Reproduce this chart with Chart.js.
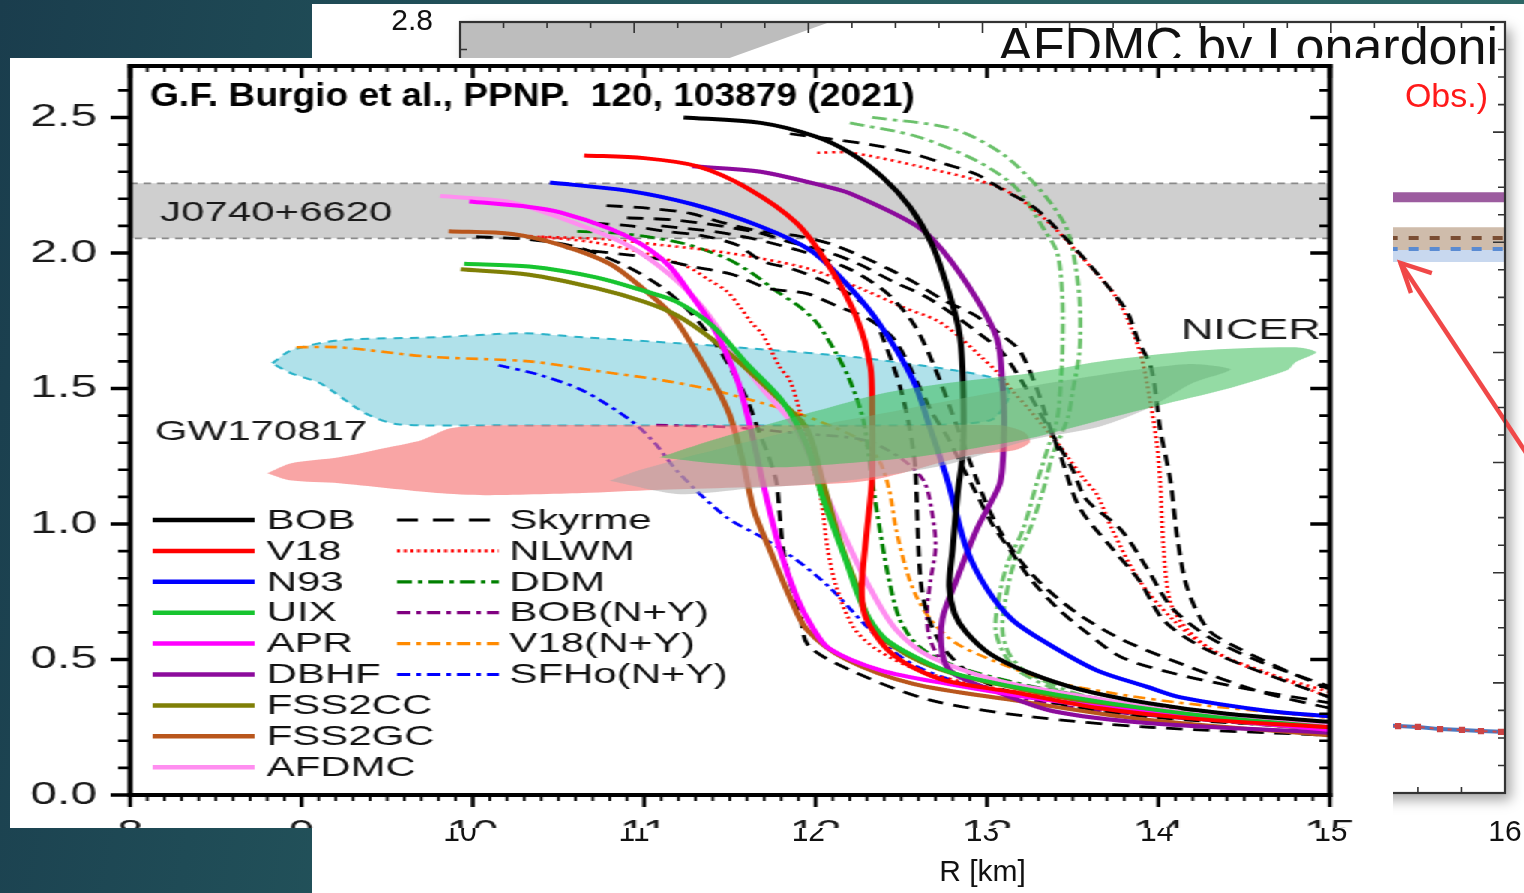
<!DOCTYPE html>
<html><head><meta charset="utf-8">
<script src="https://cdn.jsdelivr.net/npm/chart.js@4.4.1/dist/chart.umd.min.js"></script>
<style>
html,body{margin:0;padding:0;}
body{width:1524px;height:893px;overflow:hidden;position:relative;background:linear-gradient(100deg,#1a3d4d 0%,#1f4b56 20%,#275c60 45%,#2e6967 100%);}
#bgwrap{position:absolute;left:312px;top:4px;width:1212px;height:889px;background:#fff;}
#mainwrap{position:absolute;left:10px;top:58px;width:922px;height:770px;background:#fff;transform:scaleX(1.5);transform-origin:0 0;}
canvas{display:block;}
</style></head><body>
<div id="bgwrap"><canvas id="bg" width="1212" height="889"></canvas></div>
<div id="mainwrap"><canvas id="main" width="922" height="770"></canvas></div>
<script>
// ---------------- DATA (R [km], M) ----------------
const xTicksMain = [8, 9, 10, 11, 12, 13, 14, 15];
const yTicksMain = [0, 0.5, 1.0, 1.5, 2.0, 2.5];

const J0740 = [[8,2.257],[15,2.257],[15,2.054],[8,2.054],[8,2.257]];
const GW170817_blue = [[8.83,1.593],[8.94,1.641],[9.22,1.678],[9.79,1.689],[10.29,1.704],[10.64,1.689],[11.20,1.667],[11.68,1.645],[12.24,1.615],[12.81,1.567],[13.08,1.530],[13.13,1.475],[13.02,1.383],[12.49,1.364],[11.33,1.364],[10.16,1.364],[9.56,1.368],[9.37,1.409],[9.11,1.519],[8.94,1.556],[8.83,1.593]];
const GW170817_red = [[8.80,1.187],[8.94,1.224],[9.22,1.246],[9.51,1.283],[9.70,1.309],[9.87,1.353],[10.16,1.364],[11.33,1.364],[12.49,1.364],[13.08,1.364],[13.22,1.338],[13.25,1.302],[13.16,1.272],[12.90,1.254],[12.32,1.161],[11.91,1.143],[11.06,1.125],[10.64,1.114],[10.07,1.106],[9.79,1.114],[9.22,1.150],[8.93,1.161],[8.80,1.187]];
const NICER_gray = [[10.80,1.16],[11.21,1.11],[11.60,1.13],[12.18,1.16],[12.77,1.22],[13.25,1.31],[13.66,1.36],[13.95,1.43],[14.20,1.52],[14.42,1.57],[14.18,1.59],[13.66,1.55],[13.08,1.49],[12.49,1.42],[11.91,1.35],[11.33,1.26],[10.98,1.20],[10.80,1.16]];
const NICER_green = [[11.09,1.246],[11.40,1.31],[11.79,1.38],[12.08,1.43],[12.375,1.48],[12.77,1.52],[13.25,1.556],[13.66,1.60],[14.24,1.64],[14.80,1.652],[14.92,1.634],[14.80,1.597],[14.75,1.567],[14.43,1.504],[14.05,1.445],[13.66,1.383],[13.25,1.316],[12.96,1.283],[12.57,1.246],[12.18,1.224],[11.79,1.209],[11.40,1.224],[11.09,1.246]];

const BOB = [[11.23,2.50],[11.68,2.48],[12.0,2.43],[12.2,2.37],[12.39,2.28],[12.55,2.17],[12.68,2.03],[12.78,1.85],[12.84,1.70],[12.86,1.52],[12.86,1.27],[12.83,1.12],[12.80,0.91],[12.78,0.77],[12.81,0.67],[12.88,0.60],[13.02,0.52],[13.25,0.45],[13.54,0.39],[13.93,0.34],[14.4,0.30],[15.0,0.27]];
const V18 = [[10.65,2.36],[11.0,2.35],[11.31,2.32],[11.60,2.24],[11.89,2.11],[12.08,1.95],[12.24,1.76],[12.32,1.58],[12.33,1.42],[12.33,1.17],[12.30,0.98],[12.27,0.78],[12.28,0.68],[12.33,0.61],[12.43,0.53],[12.57,0.47],[12.77,0.42],[13.15,0.38],[13.66,0.32],[14.24,0.28],[15.0,0.25]];
const N93 = [[10.45,2.26],[10.90,2.23],[11.28,2.18],[11.67,2.10],[11.97,2.01],[12.16,1.90],[12.36,1.75],[12.57,1.53],[12.67,1.35],[12.77,1.16],[12.88,0.91],[13.0,0.76],[13.15,0.645],[13.35,0.56],[13.64,0.46],[13.93,0.40],[14.13,0.36],[14.64,0.31],[15.0,0.29]];
const UIX = [[9.95,1.96],[10.33,1.95],[10.72,1.91],[11.0,1.86],[11.19,1.82],[11.40,1.73],[11.60,1.59],[11.81,1.45],[11.95,1.29],[12.04,1.10],[12.18,0.86],[12.28,0.69],[12.40,0.58],[12.58,0.51],[12.8,0.45],[13.15,0.40],[13.7,0.34],[14.3,0.29],[15.0,0.25]];
const APR = [[9.98,2.19],[10.33,2.17],[10.51,2.15],[10.80,2.09],[10.99,2.03],[11.15,1.95],[11.28,1.84],[11.40,1.73],[11.50,1.60],[11.56,1.50],[11.63,1.33],[11.69,1.16],[11.79,0.91],[11.89,0.73],[11.98,0.62],[12.08,0.54],[12.38,0.46],[12.77,0.41],[13.25,0.36],[14.0,0.30],[15.0,0.24]];
const DBHF = [[11.28,2.32],[11.68,2.30],[12.03,2.25],[12.20,2.22],[12.59,2.10],[12.74,2.01],[12.94,1.83],[13.06,1.68],[13.09,1.52],[13.10,1.39],[13.09,1.21],[13.07,1.14],[12.94,0.98],[12.82,0.79],[12.74,0.65],[12.74,0.52],[12.80,0.45],[13.06,0.38],[13.38,0.31],[13.95,0.265],[15.0,0.23]];
const FSS2CC = [[9.93,1.94],[10.33,1.92],[10.72,1.87],[11.0,1.82],[11.19,1.77],[11.40,1.68],[11.62,1.56],[11.82,1.44],[11.95,1.35],[12.04,1.16],[12.14,0.94],[12.24,0.77],[12.33,0.62],[12.45,0.55],[12.62,0.49],[12.85,0.44],[13.2,0.39],[13.7,0.33],[14.3,0.28],[15.0,0.24]];
const FSS2GC = [[9.86,2.08],[10.23,2.07],[10.51,2.03],[10.80,1.96],[10.99,1.87],[11.15,1.78],[11.23,1.71],[11.40,1.53],[11.50,1.40],[11.58,1.22],[11.64,1.05],[11.73,0.91],[11.85,0.73],[11.95,0.61],[12.18,0.50],[12.57,0.41],[13.15,0.35],[13.9,0.28],[15.0,0.22]];
const AFDMC = [[9.81,2.21],[10.2,2.19],[10.51,2.13],[10.90,2.03],[11.15,1.92],[11.34,1.80],[11.52,1.64],[11.69,1.50],[11.89,1.35],[12.04,1.14],[12.18,0.94],[12.32,0.76],[12.47,0.61],[12.67,0.51],[13.08,0.42],[13.6,0.36],[14.2,0.30],[15.0,0.26]];

const SkA = [[10.02,2.06],[10.33,2.05],[10.62,2.02],[10.90,1.95],[11.11,1.87],[11.27,1.78],[11.40,1.68],[11.50,1.58],[11.60,1.46],[11.67,1.34],[11.72,1.26],[11.77,1.16],[11.79,1.04],[11.81,0.91],[11.85,0.79],[11.91,0.67],[11.96,0.55],[12.24,0.45],[12.67,0.35],[13.24,0.29],[13.95,0.25],[15.0,0.22]];
const SkB = [[10.78,2.175],[11.03,2.165],[11.27,2.146],[11.47,2.11],[11.68,2.08],[11.88,2.065],[12.08,2.035],[12.26,1.99],[12.43,1.94],[12.58,1.89],[12.75,1.825],[12.93,1.77],[13.08,1.70],[13.19,1.64],[13.29,1.50],[13.36,1.37],[13.43,1.25],[13.54,1.06],[13.73,0.91],[13.89,0.79],[14.03,0.645],[14.24,0.55],[14.53,0.47],[15.0,0.36]];
const SkB2 = [[10.90,2.13],[11.21,2.12],[11.66,2.076],[11.85,2.04],[12.04,2.01],[12.25,1.96],[12.45,1.895],[12.64,1.84],[12.81,1.77],[12.96,1.70],[13.08,1.64],[13.2,1.53],[13.30,1.42],[13.40,1.31],[13.50,1.20],[13.58,1.09],[13.78,0.98],[13.93,0.84],[14.08,0.69],[14.3,0.58],[14.6,0.49],[15.0,0.40]];
const SkC = [[10.70,2.11],[10.92,2.10],[11.12,2.08],[11.33,2.065],[11.54,2.03],[11.69,1.97],[11.87,1.94],[12.07,1.89],[12.22,1.84],[12.33,1.78],[12.39,1.69],[12.45,1.59],[12.50,1.49],[12.55,1.35],[12.58,1.22],[12.59,1.09],[12.60,0.915],[12.62,0.756],[12.67,0.634],[12.77,0.524],[12.96,0.424],[13.31,0.35],[13.95,0.288],[15.0,0.247]];
const SkD = [[10.54,2.02],[10.67,2.01],[11.06,1.98],[11.28,1.95],[11.52,1.92],[11.72,1.87],[11.95,1.85],[12.14,1.80],[12.30,1.76],[12.46,1.68],[12.61,1.50],[12.68,1.41],[12.77,1.32],[12.85,1.22],[12.94,1.11],[13.03,1.00],[13.15,0.89],[13.25,0.80],[13.41,0.69],[13.58,0.60],[13.78,0.51],[14.08,0.45],[14.53,0.39],[15.0,0.34]];
const SkE = [[11.10,2.10],[11.5,2.07],[11.9,2.01],[12.2,1.94],[12.42,1.85],[12.58,1.73],[12.70,1.57],[12.79,1.42],[12.86,1.30],[12.93,1.18],[13.0,1.07],[13.08,0.97],[13.2,0.86],[13.35,0.76],[13.55,0.66],[13.8,0.57],[14.15,0.48],[14.6,0.38],[15.0,0.32]];
const SkF = [[11.85,2.44],[12.32,2.40],[12.55,2.37],[12.75,2.33],[12.94,2.29],[13.10,2.23],[13.25,2.18],[13.36,2.12],[13.58,1.97],[13.74,1.85],[13.82,1.78],[13.88,1.68],[13.96,1.57],[14.01,1.35],[14.07,1.16],[14.11,0.95],[14.17,0.76],[14.29,0.61],[14.44,0.55],[14.74,0.46],[15.0,0.39]];

const NLWM1 = [[12.01,2.37],[12.2,2.37],[12.6,2.32],[13.08,2.24],[13.33,2.13],[13.56,1.98],[13.76,1.83],[13.89,1.64],[13.95,1.46],[13.99,1.30],[14.01,1.16],[14.03,0.91],[14.07,0.71],[14.17,0.61],[14.35,0.52],[14.64,0.45],[15.0,0.36]];
const NLWM2 = [[10.40,2.06],[10.80,2.05],[11.09,2.03],[11.38,2.01],[11.68,1.98],[11.97,1.94],[12.26,1.87],[12.51,1.80],[12.71,1.75],[12.84,1.69],[12.96,1.62],[13.06,1.56],[13.15,1.49],[13.25,1.42],[13.33,1.36],[13.41,1.30],[13.48,1.24],[13.56,1.17],[13.64,1.11],[13.73,0.98],[13.89,0.79],[14.08,0.65],[14.25,0.56],[14.53,0.47],[15.0,0.38]];
const NLWM3 = [[10.29,2.065],[10.70,2.04],[11.0,2.00],[11.25,1.95],[11.38,1.90],[11.48,1.86],[11.56,1.80],[11.63,1.74],[11.69,1.70],[11.79,1.58],[11.85,1.53],[11.91,1.41],[11.98,1.22],[12.03,1.10],[12.07,0.91],[12.12,0.77],[12.22,0.62],[12.35,0.54],[12.6,0.46],[13.0,0.40],[13.6,0.34],[14.3,0.29],[15.0,0.26]];

const DDM1 = [[10.61,2.08],[10.90,2.07],[11.23,2.035],[11.48,1.98],[11.63,1.925],[11.77,1.86],[11.91,1.80],[12.01,1.74],[12.12,1.63],[12.2,1.53],[12.28,1.38],[12.33,1.16],[12.375,0.98],[12.42,0.82],[12.49,0.65],[12.6,0.55],[12.8,0.48],[13.2,0.41],[13.8,0.34],[14.4,0.29],[15.0,0.25]];
const DDM2 = [[12.20,2.48],[12.59,2.43],[12.94,2.34],[13.17,2.24],[13.33,2.09],[13.41,2.0],[13.44,1.83],[13.44,1.64],[13.43,1.52],[13.41,1.39],[13.35,1.27],[13.29,1.15],[13.21,0.98],[13.12,0.855],[13.07,0.73],[13.05,0.61],[13.1,0.52],[13.2,0.45],[13.5,0.37],[14.1,0.30],[15.0,0.25]];
const DDM3 = [[12.33,2.50],[12.79,2.46],[13.08,2.37],[13.30,2.24],[13.45,2.11],[13.50,2.01],[13.54,1.83],[13.54,1.64],[13.50,1.49],[13.47,1.39],[13.38,1.25],[13.33,1.13],[13.25,0.98],[13.16,0.86],[13.11,0.73],[13.09,0.61],[13.13,0.52],[13.24,0.45],[13.55,0.37],[14.15,0.30],[15.0,0.26]];

const BOBNY = [[11.07,1.365],[11.50,1.357],[11.89,1.335],[12.28,1.31],[12.49,1.246],[12.63,1.16],[12.68,1.04],[12.70,0.914],[12.67,0.79],[12.65,0.67],[12.67,0.57],[12.77,0.47],[13.02,0.387],[13.54,0.32],[14.24,0.277],[15.0,0.24]];
const V18NY = [[8.97,1.652],[9.22,1.652],[9.75,1.617],[10.33,1.60],[10.72,1.565],[11.11,1.53],[11.40,1.494],[11.69,1.446],[11.89,1.41],[12.08,1.364],[12.26,1.31],[12.37,1.235],[12.43,1.125],[12.47,0.98],[12.53,0.83],[12.59,0.73],[12.68,0.64],[12.82,0.56],[13.02,0.50],[13.35,0.424],[13.73,0.376],[14.13,0.34],[15.0,0.284]];
const SFHoNY = [[10.15,1.586],[10.39,1.55],[10.64,1.493],[10.92,1.383],[11.06,1.30],[11.20,1.19],[11.48,1.025],[11.69,0.95],[11.89,0.867],[12.08,0.767],[12.28,0.634],[12.43,0.542],[12.61,0.468],[12.90,0.405],[13.37,0.35],[13.95,0.306],[15.0,0.258]];

const legendCol1 = ['BOB','V18','N93','UIX','APR','DBHF','FSS2CC','FSS2GC','AFDMC'];
const legendCol2 = ['Skyrme','NLWM','DDM','BOB(N+Y)','V18(N+Y)','SFHo(N+Y)'];

// background (Lonardoni) chart data
const bgXTicks = [10, 11, 12, 13, 14, 15, 16];
const bgGrayRegion = [[10,2.8],[12.124,2.8],[10.36,2.4],[10,2.4],[10,2.8]];
const bgPurpleLine = [[14,2.164],[16,2.164]];
const bgBrownBand = [[14,2.055],[16,2.055],[16,1.972],[14,1.972],[14,2.055]];
const bgBlueBand = [[14,1.972],[16,1.972],[16,1.928],[14,1.928],[14,1.972]];
const bgBrownDash = [[14,2.016],[16,2.016]];
const bgBlueDash = [[14,1.976],[16,1.976]];
const bgLowLine = [[15.0,0.255],[15.386,0.243],[15.50,0.240],[15.627,0.232],[15.753,0.229],[15.862,0.225],[15.977,0.222]];
const bgArrowShaft = [[16.2,1.16],[15.40,1.925]];
const bgArrowHead = [[15.58,1.888],[15.40,1.925],[15.46,1.816]];

// ---------------- STYLE ----------------
const FONT = "'Liberation Sans', Arial, Helvetica, sans-serif";
const SX = 1.5; // the reproduced figure is stretched horizontally
const styles = {
  'BOB':      {color:'#000000', width:4,   dash:[], leg:[]},
  'V18':      {color:'#ff0000', width:4,   dash:[], leg:[]},
  'N93':      {color:'#0000ff', width:4,   dash:[], leg:[]},
  'UIX':      {color:'#17c42f', width:4,   dash:[], leg:[]},
  'APR':      {color:'#ff00ff', width:4,   dash:[], leg:[]},
  'DBHF':     {color:'#8c0b9c', width:4,   dash:[], leg:[]},
  'FSS2CC':   {color:'#7f7f06', width:4,   dash:[], leg:[]},
  'FSS2GC':   {color:'#b9561c', width:4,   dash:[], leg:[]},
  'AFDMC':    {color:'#ff8ef0', width:4,   dash:[], leg:[]},
  'Skyrme':   {color:'#000000', width:2.8, dash:[11,7], leg:[14,10]},
  'NLWM':     {color:'#ff0000', width:2.6, dash:[2,3], leg:[2,2.5]},
  'DDM':      {color:'#008000', width:2.8, dash:[10,4,3,4], leg:[10,4,3,4]},
  'DDM*':     {color:'rgba(70,178,70,0.8)', width:2.8, dash:[10,4,3,4], leg:[10,4,3,4]},
  'BOB(N+Y)': {color:'#800080', width:2.6, dash:[8,4,3,4], leg:[9,4,3,4]},
  'V18(N+Y)': {color:'#ff8a00', width:2.6, dash:[8,4,3,4], leg:[9,4,3,4]},
  'SFHo(N+Y)':{color:'#0000ff', width:2.6, dash:[8,4,3,4], leg:[9,4,3,4]}
};
const curveList = [
  ['BOB',BOB],['V18',V18],['N93',N93],['UIX',UIX],['APR',APR],['DBHF',DBHF],['FSS2CC',FSS2CC],['FSS2GC',FSS2GC],['AFDMC',AFDMC],
  ['Skyrme',SkA],['Skyrme',SkB],['Skyrme',SkB2],['Skyrme',SkC],['Skyrme',SkD],['Skyrme',SkE],['Skyrme',SkF],
  ['NLWM',NLWM1],['NLWM',NLWM2],['NLWM',NLWM3],
  ['DDM',DDM1],['DDM*',DDM2],['DDM*',DDM3],
  ['BOB(N+Y)',BOBNY],['V18(N+Y)',V18NY],['SFHo(N+Y)',SFHoNY]
];
const toXY = a => a.map(p => ({x:p[0], y:p[1]}));

const datasets = [];
datasets.push({label:'J0740+6620', data:toXY(J0740), fill:'shape', backgroundColor:'#cfcfcf', borderColor:'#8a8a8a', borderWidth:1.6, borderDash:[5,4], tension:0, pointRadius:0, order:60});
datasets.push({label:'GW170817 a', data:toXY(GW170817_blue), fill:'shape', backgroundColor:'#b0e1ea', borderColor:'#2ab2c8', borderWidth:2, borderDash:[6,5], tension:0.25, pointRadius:0, order:50});
curveList.forEach(([fam, arr]) => {
  const s = styles[fam];
  const solid = s.dash.length === 0;
  datasets.push({label:fam, data:toXY(arr), borderColor:s.color, borderWidth:s.width, borderDash:s.dash,
    fill:false, tension:0.3, pointRadius:0, borderJoinStyle:'round', order: solid ? 10 : 20});
});
datasets.push({label:'GW170817 b', data:toXY(GW170817_red), fill:'shape', backgroundColor:'rgba(245,110,110,0.62)', borderWidth:0, tension:0.25, pointRadius:0, order:2});
datasets.push({label:'NICER gray', data:toXY(NICER_gray), fill:'shape', backgroundColor:'rgba(165,165,165,0.5)', borderWidth:0, tension:0.25, pointRadius:0, order:1});
datasets.push({label:'NICER', data:toXY(NICER_green), fill:'shape', backgroundColor:'rgba(60,190,90,0.55)', borderWidth:0, tension:0.25, pointRadius:0, order:0});

function drawSample(ctx, x0, x1, y, s, lw){
  ctx.save();
  ctx.strokeStyle = s.color; ctx.lineWidth = lw; ctx.setLineDash(s.leg);
  ctx.beginPath(); ctx.moveTo(x0, y); ctx.lineTo(x1, y); ctx.stroke();
  ctx.restore();
}

const mainDeco = {
  id:'mainDeco',
  afterDatasetsDraw(chart){
    const {ctx, chartArea:a, scales:{x, y}} = chart;
    ctx.save();
    ctx.strokeStyle = '#000'; ctx.lineCap = 'butt';
    for (let i = 0; i <= 70; i++) {
      const px = x.getPixelForValue(8 + i * 0.1);
      const major = i % 10 === 0;
      ctx.lineWidth = major ? 2.6 : 1.8;
      const L = major ? 12 : 6;
      ctx.beginPath();
      ctx.moveTo(px, a.bottom); ctx.lineTo(px, a.bottom + L);
      ctx.moveTo(px, a.top); ctx.lineTo(px, a.top + L);
      ctx.stroke();
    }
    for (let i = 0; i <= 26; i++) {
      const py = y.getPixelForValue(i * 0.1);
      const major = i % 5 === 0;
      ctx.lineWidth = major ? 3.6 : 2.6;
      ctx.beginPath();
      ctx.moveTo(a.left, py); ctx.lineTo(a.left - (major ? 13 : 8), py);
      ctx.moveTo(a.right, py); ctx.lineTo(a.right - (major ? 13 : 7), py);
      ctx.stroke();
    }
    ctx.lineWidth = 4.2;
    ctx.beginPath(); ctx.moveTo(a.left - 1.5, a.top); ctx.lineTo(a.right + 1.5, a.top);
    ctx.moveTo(a.left - 1.5, a.bottom); ctx.lineTo(a.right + 1.5, a.bottom); ctx.stroke();
    ctx.lineWidth = 3.4;
    ctx.beginPath(); ctx.moveTo(a.left, a.top - 2); ctx.lineTo(a.left, a.bottom + 2);
    ctx.moveTo(a.right, a.top - 2); ctx.lineTo(a.right, a.bottom + 2); ctx.stroke();
    ctx.restore();
  },
  afterDraw(chart){
    const {ctx} = chart;
    ctx.save();
    ctx.font = '28px ' + FONT; ctx.fillStyle = '#111'; ctx.textBaseline = 'middle'; ctx.textAlign = 'left';
    legendCol1.forEach((name, i) => {
      const yy = 462 + i * 30.9;
      drawSample(ctx, 95, 163, yy, styles[name], 4.5);
      ctx.fillText(name, 171, yy + 1);
    });
    legendCol2.forEach((name, i) => {
      const yy = 462 + i * 30.9;
      drawSample(ctx, 258, 326, yy, styles[name], 3.2);
      ctx.fillText(name, 333, yy + 1);
    });
    ctx.fillStyle = '#1a1a1a';
    ctx.fillText('J0740+6620', 100, 155);
    ctx.fillText('GW170817', 96.5, 374);
    ctx.font = '30px ' + FONT; ctx.textAlign = 'right';
    ctx.fillText('NICER', 874, 273);
    ctx.restore();
    // title (not stretched like the figure)
    ctx.save();
    const k = 1.125 / SX;
    ctx.scale(k, 1);
    ctx.font = 'bold 33px ' + FONT; ctx.fillStyle = '#000'; ctx.textBaseline = 'alphabetic'; ctx.textAlign = 'left';
    ctx.fillText('G.F. Burgio et al., PPNP.  120, 103879 (2021)', 93.3 / k, 48);
    ctx.restore();
  }
};

new Chart(document.getElementById('main'), {
  type:'line',
  data:{datasets},
  options:{
    responsive:false, animation:false, events:[], devicePixelRatio:1,
    layout:{padding:{left:0, right:42, top:8, bottom:0}, autoPadding:false},
    plugins:{legend:{display:false}, tooltip:{enabled:false}, title:{display:false}},
    scales:{
      x:{type:'linear', min:8, max:15, grid:{display:false}, border:{display:false},
        afterBuildTicks(s){ s.ticks = xTicksMain.map(v => ({value:v})); },
        ticks:{padding:12, color:'#1a1a1a', font:{family:FONT, size:31}, autoSkip:false, maxRotation:0, minRotation:0},
        afterFit(s){ s.height = 33; s.paddingLeft = 0; s.paddingRight = 0; }},
      y:{type:'linear', min:0, max:2.69, grid:{display:false}, border:{display:false},
        afterBuildTicks(s){ s.ticks = yTicksMain.map(v => ({value:v})); },
        ticks:{padding:14, color:'#1a1a1a', font:{family:FONT, size:32}, autoSkip:false, callback:v => Number(v).toFixed(1)},
        afterFit(s){ s.width = 80; s.paddingTop = 0; s.paddingBottom = 0; }}
    }
  },
  plugins:[mainDeco]
});

// ---------------- background chart ----------------
const bgDatasets = [
  {data:toXY(bgGrayRegion), fill:'shape', backgroundColor:'#bdbdbd', borderWidth:0, pointRadius:0, tension:0, order:9},
  {data:toXY(bgBrownBand), fill:'shape', backgroundColor:'#cfbcab', borderWidth:0, pointRadius:0, tension:0, order:8},
  {data:toXY(bgBlueBand), fill:'shape', backgroundColor:'#c8d8ef', borderWidth:0, pointRadius:0, tension:0, order:8},
  {data:toXY(bgBrownDash), borderColor:'#7a4d33', borderWidth:4, borderDash:[10,11], pointRadius:0, fill:false, order:5},
  {data:toXY(bgBlueDash), borderColor:'#5a8bd2', borderWidth:4, borderDash:[10,11], pointRadius:0, fill:false, order:5},
  {data:toXY(bgPurpleLine), borderColor:'#9c5c9f', borderWidth:10, borderCapStyle:'round', pointRadius:0, fill:false, order:4},
  {data:toXY(bgLowLine), borderColor:'#4a78c0', borderWidth:4, pointRadius:0, fill:false, order:4, tension:0},
  {data:toXY(bgLowLine), borderColor:'#d24848', borderWidth:2, borderDash:[4,5], pointRadius:3, pointStyle:'rect', pointBackgroundColor:'#cc4444', pointBorderColor:'#cc4444', fill:false, order:3, tension:0},
  {data:toXY(bgArrowShaft), borderColor:'#f04848', borderWidth:4.5, pointRadius:0, fill:false, order:1, clip:false},
  {data:toXY(bgArrowHead), borderColor:'#f04848', borderWidth:4.5, borderJoinStyle:'miter', pointRadius:0, fill:false, order:1, clip:false, tension:0}
];

const bgDeco = {
  id:'bgDeco',
  beforeDatasetsDraw(chart){
    const {ctx, chartArea:a} = chart;
    ctx.save();
    ctx.shadowColor = 'rgba(0,0,0,0.35)'; ctx.shadowBlur = 12; ctx.shadowOffsetX = 6; ctx.shadowOffsetY = 7;
    ctx.fillStyle = '#fff'; ctx.fillRect(a.left, a.top, a.right - a.left, a.bottom - a.top);
    ctx.restore();
  },
  afterDatasetsDraw(chart){
    const {ctx, chartArea:a, scales:{x, y}} = chart;
    ctx.save();
    ctx.strokeStyle = '#333'; ctx.lineWidth = 1.6;
    for (let i = 0; i <= 24; i++) {
      const px = x.getPixelForValue(10 + i * 0.25);
      const L = i % 4 === 0 ? 11 : 6;
      ctx.beginPath();
      ctx.moveTo(px, a.top); ctx.lineTo(px, a.top + L);
      ctx.moveTo(px, a.bottom); ctx.lineTo(px, a.bottom - L);
      ctx.stroke();
    }
    for (let i = 0; i <= 28; i++) {
      const py = y.getPixelForValue(i * 0.1);
      const L = i % 4 === 0 ? 12 : 7;
      ctx.beginPath();
      ctx.moveTo(a.left, py); ctx.lineTo(a.left + L, py);
      ctx.moveTo(a.right, py); ctx.lineTo(a.right - L, py);
      ctx.stroke();
    }
    ctx.lineWidth = 2.2;
    ctx.strokeRect(a.left, a.top, a.right - a.left, a.bottom - a.top);
    ctx.fillStyle = '#111'; ctx.font = '52px ' + FONT; ctx.textAlign = 'right'; ctx.textBaseline = 'alphabetic';
    ctx.fillText('AFDMC by Lonardoni', 1186, 60);
    ctx.fillStyle = '#ff1a1a'; ctx.font = '34px ' + FONT;
    ctx.fillText('(AFDMC : Obs.)', 1176, 103);
    ctx.restore();
  }
};

new Chart(document.getElementById('bg'), {
  type:'line',
  data:{datasets:bgDatasets},
  options:{
    responsive:false, animation:false, events:[], devicePixelRatio:1,
    layout:{padding:{left:0, right:19, top:18, bottom:0}, autoPadding:false},
    plugins:{legend:{display:false}, tooltip:{enabled:false}},
    scales:{
      x:{type:'linear', min:10, max:16, grid:{display:false}, border:{display:false},
        afterBuildTicks(s){ s.ticks = bgXTicks.map(v => ({value:v})); },
        ticks:{padding:14, color:'#111', font:{family:FONT, size:30}, autoSkip:false, maxRotation:0},
        title:{display:true, text:'R [km]', color:'#111', font:{family:FONT, size:30}, padding:{top:0, bottom:2}},
        afterFit(s){ s.height = 100; s.paddingLeft = 0; s.paddingRight = 0; }},
      y:{type:'linear', min:0, max:2.8, grid:{display:false}, border:{display:false},
        ticks:{stepSize:0.4, padding:19, color:'#111', font:{family:FONT, size:30}, callback:v => Number(v).toFixed(1)},
        afterFit(s){ s.width = 148; s.paddingTop = 0; s.paddingBottom = 0; }}
    }
  },
  plugins:[bgDeco]
});
</script></body></html>
